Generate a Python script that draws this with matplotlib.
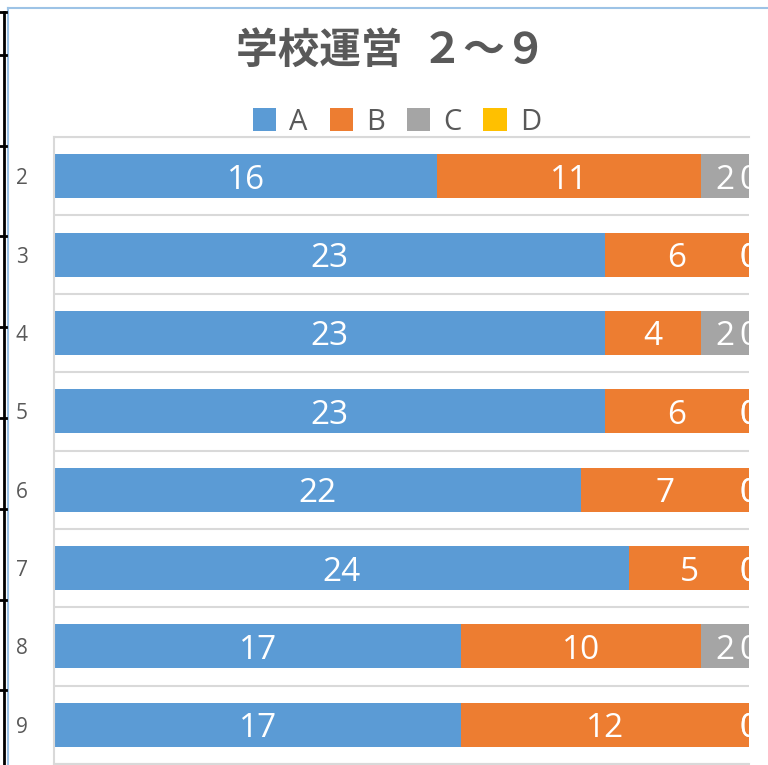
import numpy as np
import matplotlib
matplotlib.use("Agg")
import matplotlib.pyplot as plt
from matplotlib.lines import Line2D
from matplotlib.patches import Patch

# data
categories = ["2", "3", "4", "5", "6", "7", "8", "9"]
series_names = ["A", "B", "C", "D"]
vals_a = [16, 23, 23, 23, 22, 24, 17, 17]
vals_b = [11, 6, 4, 6, 7, 5, 10, 12]
vals_c = [2, 0, 2, 0, 0, 0, 2, 0]
vals_d = [0, 0, 0, 0, 0, 0, 0, 0]

colors = ["#5B9BD5", "#ED7D31", "#A5A5A5", "#FFC000"]
txt_col = "#595959"
grid_col = "#D9D9D9"

W, H = 768, 765
fig = plt.figure(figsize=(W / 100, H / 100), dpi=100)

def fx(px):
    return px / W

def fy(py):
    return 1 - py / H

ax = fig.add_axes([fx(54), fy(764), fx(749) - fx(54), fy(137) - fy(764)])

y = np.arange(len(categories))
left = np.zeros(len(categories))
for name, vals, col in zip(series_names, [vals_a, vals_b, vals_c, vals_d], colors):
    vals = np.array(vals, dtype=float)
    ax.barh(y, vals, left=left, height=0.56, color=col, linewidth=0, label=name, zorder=2)
    for yi, l, v in zip(y, left, vals):
        ax.text(l + v / 2, yi, f"{int(v)}", ha="center", va="center_baseline", color="white",
                fontsize=24, family="Open Sans", clip_on=True, zorder=3)
    left = left + vals

ax.set_xlim(0, 29)
ax.set_ylim(len(categories) - 0.5, -0.5)
ax.set_xticks([])
ax.set_yticks(y)
ax.set_yticklabels(categories, fontsize=15, color=txt_col, family="Open Sans")
ax.tick_params(axis="y", length=0, pad=19)
ax.set_yticks(np.arange(len(categories) + 1) - 0.5, minor=True)
ax.tick_params(axis="y", which="minor", length=0)
ax.grid(True, axis="y", which="minor", color=grid_col, linewidth=1.5, zorder=0)
for s in ["left", "top", "bottom"]:
    ax.spines[s].set_color(grid_col)
    ax.spines[s].set_linewidth(1.5)
ax.spines["right"].set_visible(False)

fig.text(fx(391), fy(52), "学校運営  ２～９", ha="center", va="center", fontsize=30,
         fontweight="bold", color=txt_col, family=["Noto Sans CJK JP", "DejaVu Sans"])

handles = [Patch(facecolor=c, edgecolor="none") for c in colors]
leg = fig.legend(handles, series_names, loc="center", bbox_to_anchor=(fx(397), fy(122)),
                 ncol=4, frameon=False, handlelength=0.8, handleheight=0.8,
                 handletextpad=0.45, columnspacing=0.75,
                 prop={"family": "Open Sans", "size": 21})
for t in leg.get_texts():
    t.set_color(txt_col)

# chart border (light blue) and sheet cell borders on the left
fig.add_artist(Line2D([fx(8), fx(8)], [fy(8), fy(765)], color="#9DC3E6", lw=1.5))
fig.add_artist(Line2D([fx(8), fx(768)], [fy(8), fy(8)], color="#9DC3E6", lw=1.5))
fig.add_artist(Line2D([fx(4), fx(4)], [fy(12), fy(765)], color="black", lw=2))
for py in [12, 55, 146, 236, 327, 418, 509, 600, 690]:
    fig.add_artist(Line2D([fx(0), fx(6)], [fy(py), fy(py)], color="black", lw=2))

fig.savefig("out.png", dpi=100)
